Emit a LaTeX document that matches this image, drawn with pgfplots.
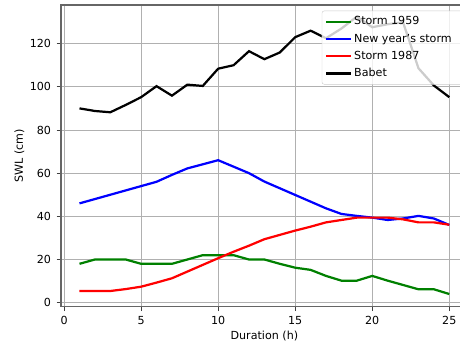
\documentclass[border=0pt]{standalone}
\usepackage{fontspec}
\setmainfont{DejaVu Sans}
\usepackage{pgfplots}
\usepackage{pgfplotstable}
\pgfplotsset{compat=1.18}
\definecolor{mplgreen}{RGB}{0,128,0}
\definecolor{gridgray}{RGB}{176,176,176}
\definecolor{legedge}{RGB}{204,204,204}
\pgfplotstableread{
h green blue red babet
1 18 46 5.4 90
2 20 48 5.4 88.8
3 20 50 5.4 88.2
4 20 52 6.3 91.6
5 18 54 7.4 95.2
6 18 56 9.3 100.3
7 18 59.2 11.3 95.9
8 20 62.2 14.4 101
9 22 64.1 17.5 100.4
10 22 66 20.6 108.4
11 22 63 23.6 110
12 20 60 26.4 116.5
13 20 56.1 29.4 112.8
14 18 53 31.4 115.9
15 16.2 49.9 33.4 123
16 15.2 46.8 35.2 126
17 12.4 43.7 37.2 122.5
18 10.2 41.1 38.3 127
19 10.2 40.2 39.4 132.5
20 12.4 39.4 39.4 127.6
21 10.2 38.3 39.4 129
22 8.2 39 38.6 129.9
23 6.2 40.2 37.2 108.6
24 6.2 39 37.2 100.6
25 4 36 36.1 95.2
}\datatable
\begin{document}
\begin{tikzpicture}
\begin{axis}[
  at={(0,0)}, anchor=south west,
  scale only axis, width=366.1pt, height=271.5pt,
  xmin=-0.2, xmax=26.2, ymin=-1.85, ymax=137.9,
  xtick={0,5,...,25}, ytick={0,20,...,120},
  grid=major, major grid style={color=gridgray, line width=0.7pt},
  axis line style={black!60, line width=1.2pt},
  tick align=outside, major tick length=4pt,
  tick style={black!75, line width=0.7pt},
  xtick pos=bottom, ytick pos=left,
  /pgf/number format/assume math mode=true,
  ticklabel style={font=\fontsize{10}{12}\selectfont},
  yticklabel style={xshift=-1.5pt},
  xticklabel style={yshift=-1.5pt},
  every axis x label/.style={at={(axis description cs:0.5,0)}, anchor=center, yshift=-26.4pt, font=\fontsize{10}{12}\selectfont},
  every axis y label/.style={at={(axis description cs:-0.1024,0.5)}, anchor=center, rotate=90, font=\fontsize{10}{12}\selectfont},
  xlabel={Duration (h)}, ylabel={SWL (cm)},
  legend cell align=left,
  legend style={at={(0.641,0.981)}, anchor=north west, draw=legedge,
    rounded corners=2pt, fill=white, fill opacity=0.8, text opacity=1,
    font=\fontsize{10}{12}\selectfont, row sep=2pt, inner xsep=3pt, inner ysep=3pt,
    nodes={text height=8pt, text depth=2.5pt, inner sep=1.5pt}},
  legend image code/.code={\draw[#1, line width=2pt] (0pt,0pt) -- (22.5pt,0pt);},
]
\addplot[mplgreen, line width=2pt] table[x=h, y=green] {\datatable};
\addlegendentry{Storm 1959}
\addplot[blue, line width=2pt] table[x=h, y=blue] {\datatable};
\addlegendentry{New year's storm\hspace*{14pt}}
\addplot[red, line width=2pt] table[x=h, y=red] {\datatable};
\addlegendentry{Storm 1987}
\addplot[black, line width=2pt] table[x=h, y=babet] {\datatable};
\addlegendentry{Babet}
\end{axis}
\pgfresetboundingbox
\useasboundingbox (-54.9pt,-36.3pt) rectangle (359.1pt,276pt);
\end{tikzpicture}
\end{document}
